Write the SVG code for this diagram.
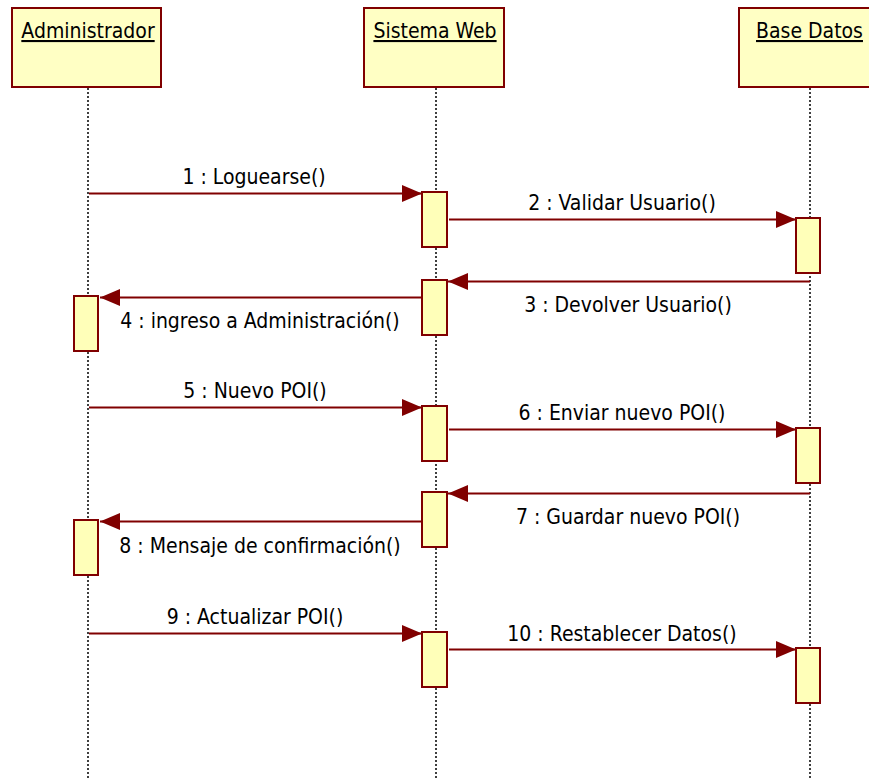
<svg xmlns="http://www.w3.org/2000/svg" width="869" height="779" viewBox="0 0 869 779">
<style>
.hdr{fill:#FFFFC4;stroke:#800000;stroke-width:2}
.act{fill:#FFFFB9;stroke:#800000;stroke-width:2}
.life{stroke:#000;stroke-width:1.5;stroke-dasharray:2 2;fill:none}
.msg{stroke:#800000;stroke-width:1.8;fill:none}
.t{font-family:"DejaVu Sans Condensed","DejaVu Sans",Verdana,sans-serif;font-stretch:condensed;font-size:21px;fill:#000;text-anchor:middle}
.u{text-decoration:underline}
</style>
<defs>
<marker id="ah" markerWidth="20" markerHeight="17" refX="20" refY="8.5" orient="auto" markerUnits="userSpaceOnUse">
<path d="M0,0 L20,8.5 L0,17 Z" fill="#800000"/>
</marker>
</defs>
<rect width="869" height="779" fill="#fff"/>
<g id="lifelines">
<line class="life" x1="88" y1="88" x2="88" y2="779"/>
<line class="life" x1="436" y1="88" x2="436" y2="779"/>
<line class="life" x1="810" y1="88" x2="810" y2="779"/>
</g>
<g id="administrador">
<rect class="hdr" x="12" y="8" width="149" height="79"/>
<text class="t u" x="88" y="38">Administrador</text>
</g>
<g id="sistema-web">
<rect class="hdr" x="364" y="8" width="140" height="79"/>
<text class="t u" x="435" y="38">Sistema Web</text>
</g>
<g id="base-datos">
<rect class="hdr" x="739" y="8" width="141" height="79"/>
<text class="t u" x="809.5" y="38">Base Datos</text>
</g>
<g id="activations">
<rect class="act" x="422" y="192" width="25" height="55"/>
<rect class="act" x="796" y="218" width="24" height="55"/>
<rect class="act" x="422" y="280" width="25" height="55"/>
<rect class="act" x="74" y="296" width="24" height="55"/>
<rect class="act" x="422" y="406" width="25" height="55"/>
<rect class="act" x="796" y="428" width="24" height="55"/>
<rect class="act" x="422" y="492" width="25" height="55"/>
<rect class="act" x="74" y="520" width="24" height="55"/>
<rect class="act" x="422" y="632" width="25" height="55"/>
<rect class="act" x="796" y="648" width="24" height="55"/>
</g>
<g id="connectors">
<line class="msg" x1="89" y1="193.5" x2="422" y2="193.5" marker-end="url(#ah)"/>
<line class="msg" x1="449" y1="219.5" x2="796" y2="219.5" marker-end="url(#ah)"/>
<line class="msg" x1="810" y1="281.5" x2="448" y2="281.5" marker-end="url(#ah)"/>
<line class="msg" x1="422" y1="297.5" x2="100" y2="297.5" marker-end="url(#ah)"/>
<line class="msg" x1="89" y1="407.5" x2="422" y2="407.5" marker-end="url(#ah)"/>
<line class="msg" x1="449" y1="429.5" x2="796" y2="429.5" marker-end="url(#ah)"/>
<line class="msg" x1="810" y1="493.5" x2="448" y2="493.5" marker-end="url(#ah)"/>
<line class="msg" x1="422" y1="521.5" x2="100" y2="521.5" marker-end="url(#ah)"/>
<line class="msg" x1="89" y1="633.5" x2="422" y2="633.5" marker-end="url(#ah)"/>
<line class="msg" x1="449" y1="649.5" x2="796" y2="649.5" marker-end="url(#ah)"/>
</g>
<g id="labels">
<text class="t" x="254" y="184">1 : Loguearse()</text>
<text class="t" x="622" y="210">2 : Validar Usuario()</text>
<text class="t" x="628" y="312">3 : Devolver Usuario()</text>
<text class="t" x="260" y="328">4 : ingreso a Administración()</text>
<text class="t" x="255" y="398">5 : Nuevo POI()</text>
<text class="t" x="622" y="420">6 : Enviar nuevo POI()</text>
<text class="t" x="628" y="524">7 : Guardar nuevo POI()</text>
<text class="t" x="260" y="553">8 : Mensaje de confirmación()</text>
<text class="t" x="255" y="624">9 : Actualizar POI()</text>
<text class="t" x="622" y="641">10 : Restablecer Datos()</text>
</g>
</svg>
